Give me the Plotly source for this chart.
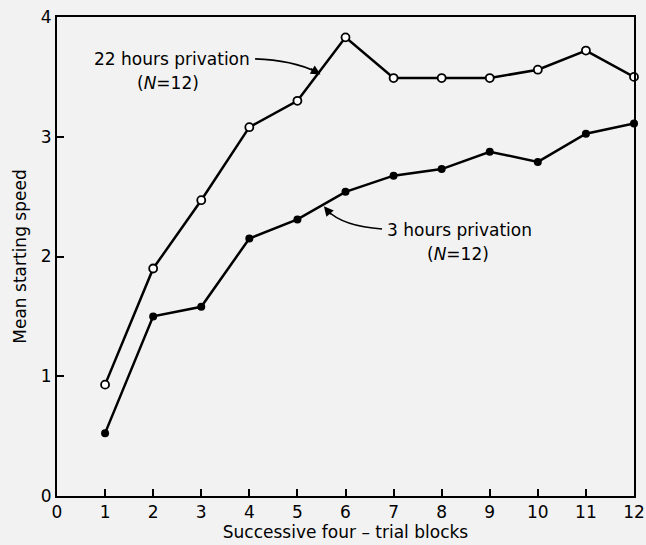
import plotly.graph_objects as go

blocks = [1, 2, 3, 4, 5, 6, 7, 8, 9, 10, 11, 12]
hours22 = [0.93, 1.90, 2.47, 3.08, 3.30, 3.83, 3.49, 3.49, 3.49, 3.56, 3.72, 3.50]
hours3 = [0.525, 1.50, 1.58, 2.15, 2.31, 2.54, 2.675, 2.73, 2.875, 2.79, 3.025, 3.11]
x_ticks = list(range(0, 13))
y_ticks = [0, 1, 2, 3, 4]

FONT = "DejaVu Sans"
BG = "#f2f2f2"

fig = go.Figure()
fig.add_trace(go.Scatter(
    x=blocks, y=hours22, mode="lines+markers",
    line=dict(color="black", width=2.5),
    marker=dict(symbol="circle", size=8, color="white", line=dict(color="black", width=1.8)),
    cliponaxis=False, showlegend=False))
fig.add_trace(go.Scatter(
    x=blocks, y=hours3, mode="lines+markers",
    line=dict(color="black", width=2.5),
    marker=dict(symbol="circle", size=8, color="black"),
    cliponaxis=False, showlegend=False))

# curved leader lines
fig.add_shape(type="path", xref="x", yref="y",
              path="M 4.12,3.65 Q 4.89,3.64 5.40,3.54",
              line=dict(color="black", width=1.6))
fig.add_shape(type="path", xref="x", yref="y",
              path="M 6.76,2.23 Q 5.95,2.25 5.60,2.39",
              line=dict(color="black", width=1.6))

# arrowheads
fig.add_annotation(x=5.48, y=3.52, ax=5.25, ay=3.575, xref="x", yref="y",
                   axref="x", ayref="y", text="", showarrow=True,
                   arrowhead=2, arrowsize=1.2, arrowwidth=1.6, arrowcolor="black")
fig.add_annotation(x=5.55, y=2.42, ax=5.72, ay=2.34, xref="x", yref="y",
                   axref="x", ayref="y", text="", showarrow=True,
                   arrowhead=2, arrowsize=1.2, arrowwidth=1.6, arrowcolor="black")

tfont = dict(family=FONT, size=17, color="black")
fig.add_annotation(x=2.40, y=3.65, text="22 hours privation", showarrow=False, font=tfont)
fig.add_annotation(x=2.31, y=3.45, text="(<i>N</i>=12)", showarrow=False, font=tfont)
fig.add_annotation(x=8.37, y=2.22, text="3 hours privation", showarrow=False, font=tfont)
fig.add_annotation(x=8.34, y=2.02, text="(<i>N</i>=12)", showarrow=False, font=tfont)

fig.update_layout(
    width=646, height=545,
    margin=dict(l=57, r=12, t=17, b=49),
    paper_bgcolor=BG, plot_bgcolor=BG,
    font=dict(family=FONT, size=17, color="black"),
    xaxis=dict(range=[0, 12], tickvals=x_ticks, ticks="inside", ticklen=7,
               tickwidth=1.5, tickcolor="black", showline=True, linecolor="black",
               linewidth=2, mirror=True, showgrid=False, zeroline=False,
               automargin=False,
               title=dict(text="Successive four – trial blocks", standoff=0,
                          font=dict(family=FONT, size=17)),
               tickfont=dict(family=FONT, size=17)),
    yaxis=dict(range=[0, 4], tickvals=y_ticks, ticks="inside", ticklen=7,
               tickwidth=1.5, tickcolor="black", showline=True, linecolor="black",
               linewidth=2, mirror=True, showgrid=False, zeroline=False,
               automargin=False,
               title=dict(text="Mean starting speed", standoff=10,
                          font=dict(family=FONT, size=17)),
               tickfont=dict(family=FONT, size=17)),
)

fig.write_html("out.html")
